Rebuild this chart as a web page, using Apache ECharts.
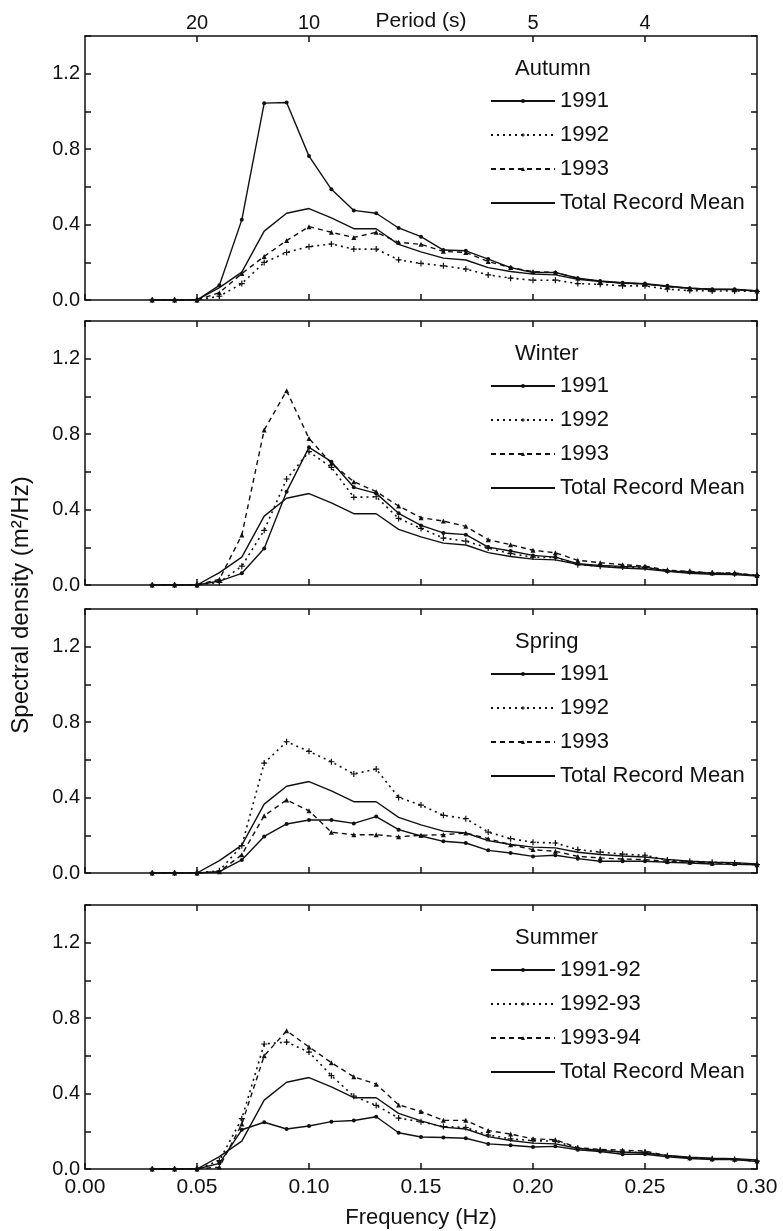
<!DOCTYPE html>
<html>
<head>
<meta charset="utf-8">
<script src="https://cdn.jsdelivr.net/npm/echarts@6/dist/echarts.min.js"></script>
<style>
html,body{margin:0;padding:0;background:#fff;}
#chart{width:783px;height:1231px;}
</style>
</head>
<body>
<div id="chart"></div>
<script>
// ---------- DATA ----------
var freq = [0.03,0.04,0.05,0.06,0.07,0.08,0.09,0.10,0.11,0.12,0.13,0.14,0.15,0.16,0.17,0.18,0.19,0.20,0.21,0.22,0.23,0.24,0.25,0.26,0.27,0.28,0.29,0.30];

var recordMean = [0,0,0,0.066,0.148,0.365,0.46,0.485,0.435,0.378,0.378,0.295,0.255,0.222,0.212,0.172,0.151,0.137,0.133,0.11,0.098,0.09,0.085,0.072,0.062,0.057,0.055,0.048];

var autumn1991 = [0,0,0,0.078,0.425,1.044,1.047,0.763,0.587,0.475,0.46,0.382,0.336,0.265,0.261,0.217,0.172,0.146,0.146,0.116,0.101,0.092,0.087,0.075,0.062,0.057,0.057,0.048];
var autumn1992 = [0,0,0,0.02,0.087,0.199,0.252,0.283,0.297,0.27,0.27,0.213,0.194,0.181,0.164,0.133,0.116,0.105,0.105,0.087,0.083,0.075,0.075,0.057,0.05,0.048,0.048,0.046];
var autumn1993 = [0,0,0,0.039,0.14,0.231,0.315,0.389,0.359,0.332,0.359,0.306,0.295,0.258,0.252,0.204,0.172,0.151,0.146,0.116,0.098,0.089,0.085,0.071,0.059,0.055,0.055,0.048];

var winter1991 = [0,0,0,0.021,0.062,0.194,0.495,0.73,0.654,0.518,0.486,0.38,0.316,0.276,0.267,0.201,0.18,0.157,0.148,0.113,0.104,0.099,0.095,0.074,0.069,0.062,0.06,0.05];
var winter1992 = [0,0,0,0.014,0.1,0.29,0.562,0.707,0.624,0.465,0.468,0.353,0.3,0.249,0.233,0.196,0.166,0.148,0.145,0.108,0.1,0.095,0.092,0.075,0.07,0.063,0.06,0.05];
var winter1993 = [0,0,0,0.03,0.265,0.822,1.03,0.777,0.645,0.548,0.495,0.419,0.357,0.339,0.311,0.24,0.214,0.184,0.171,0.131,0.118,0.108,0.1,0.078,0.072,0.064,0.064,0.051];

var spring1991 = [0,0,0,0.007,0.069,0.194,0.26,0.281,0.281,0.263,0.299,0.23,0.196,0.168,0.159,0.12,0.106,0.088,0.094,0.076,0.062,0.062,0.062,0.057,0.053,0.048,0.046,0.044];
var spring1992 = [0,0,0,0.012,0.145,0.583,0.696,0.645,0.59,0.525,0.551,0.401,0.36,0.306,0.288,0.217,0.182,0.163,0.159,0.124,0.111,0.1,0.094,0.069,0.062,0.057,0.053,0.044];
var spring1993 = [0,0,0,0.007,0.097,0.304,0.387,0.33,0.216,0.203,0.203,0.192,0.2,0.203,0.212,0.182,0.15,0.124,0.115,0.088,0.08,0.074,0.071,0.062,0.058,0.053,0.05,0.044];

var summer9192 = [0,0,0,0.03,0.208,0.248,0.212,0.228,0.251,0.257,0.277,0.192,0.17,0.167,0.163,0.133,0.126,0.117,0.12,0.102,0.093,0.078,0.078,0.065,0.056,0.05,0.05,0.04];
var summer9293 = [0,0,0,0.044,0.267,0.663,0.673,0.62,0.495,0.386,0.337,0.27,0.25,0.225,0.22,0.18,0.16,0.15,0.148,0.11,0.1,0.09,0.088,0.07,0.06,0.055,0.05,0.042];
var summer9394 = [0,0,0,0.01,0.238,0.6,0.733,0.647,0.564,0.489,0.45,0.34,0.305,0.258,0.258,0.204,0.185,0.16,0.155,0.113,0.104,0.1,0.095,0.07,0.06,0.055,0.052,0.042];

var seasons = ['Autumn','Winter','Spring','Summer'];
var yearNames = [
  ['1991','1992','1993'],
  ['1991','1992','1993'],
  ['1991','1992','1993'],
  ['1991-92','1992-93','1993-94']
];
var seasonData = [
  [autumn1991, autumn1992, autumn1993],
  [winter1991, winter1992, winter1993],
  [spring1991, spring1992, spring1993],
  [summer9192, summer9293, summer9394]
];
var meanName = 'Total Record Mean';
var periodTicks = [20, 10, 5, 4];
var yTickValues = [0.0, 0.4, 0.8, 1.2];

// ---------- LAYOUT / STYLE ----------
var FONT = '"Liberation Sans", Arial, Helvetica, sans-serif';
var INK = '#111';
var tops = [36, 321, 609, 905];
var panelH = 264;
var plusPath = 'path://M4,0 L6,0 L6,4 L10,4 L10,6 L6,6 L6,10 L4,10 L4,6 L0,6 L0,4 L4,4 Z';
var styles = [
  {symbol:'circle', symbolSize:4, line:{type:'solid', width:1.4}},
  {symbol:plusPath, symbolSize:6, line:{type:[2,4], width:1.6}},
  {symbol:'triangle', symbolSize:5, line:{type:[5,4], width:1.4}}
];

function pairs(arr){ return freq.map(function(f,k){ return [f, arr[k]]; }); }

var axisLineStyle = {color: INK, width: 1.5};
var grids = [], xAxes = [], yAxes = [], series = [], legends = [], titles = [];

for (var i = 0; i < 4; i++) {
  grids.push({left: 85, right: 26, top: tops[i], height: panelH, containLabel: false});
  xAxes.push({
    type: 'value', gridIndex: i, position: 'bottom', min: 0, max: 0.3, interval: 0.05,
    axisLine: {show: true, onZero: false, lineStyle: axisLineStyle},
    axisTick: {show: true, inside: true, length: 6, lineStyle: axisLineStyle},
    splitLine: {show: false},
    axisLabel: {show: i === 3, formatter: function(v){ return v.toFixed(2); },
      fontFamily: FONT, fontSize: 21, color: INK, margin: 8},
    name: i === 3 ? 'Frequency (Hz)' : '',
    nameLocation: 'middle', nameGap: 38, nameMoveOverlap: false,
    nameTextStyle: {fontFamily: FONT, fontSize: 22, color: INK}
  });
  if (i === 0) {
    var pf = periodTicks.map(function(p){ return 1 / p; });
    xAxes.push({
      type: 'value', gridIndex: i, position: 'top', min: 0, max: 0.3,
      axisLine: {show: true, onZero: false, lineStyle: axisLineStyle},
      axisTick: {show: true, inside: true, length: 6, lineStyle: axisLineStyle, customValues: pf},
      axisLabel: {show: true, customValues: pf, formatter: function(v){ return String(Math.round(1 / v)); },
        fontFamily: FONT, fontSize: 20, color: INK, margin: 3},
      splitLine: {show: false},
      name: 'Period (s)', nameLocation: 'middle', nameGap: 4, nameMoveOverlap: false,
      nameTextStyle: {fontFamily: FONT, fontSize: 21, color: INK, verticalAlign: 'bottom'}
    });
  } else {
    xAxes.push({
      type: 'value', gridIndex: i, position: 'top', min: 0, max: 0.3, interval: 0.05,
      axisLine: {show: true, onZero: false, lineStyle: axisLineStyle},
      axisTick: {show: true, inside: true, length: 6, lineStyle: axisLineStyle},
      axisLabel: {show: false}, splitLine: {show: false}
    });
  }
  yAxes.push({
    type: 'value', gridIndex: i, position: 'left', min: 0, max: 1.4, interval: 0.2,
    axisLine: {show: true, onZero: false, lineStyle: axisLineStyle},
    axisTick: {show: true, inside: true, length: 6, lineStyle: axisLineStyle},
    axisLabel: {show: true, customValues: yTickValues, formatter: function(v){ return v.toFixed(1); },
      fontFamily: FONT, fontSize: 20, color: INK, margin: 5},
    splitLine: {show: false}
  });
  yAxes.push({
    type: 'value', gridIndex: i, position: 'right', min: 0, max: 1.4, interval: 0.2,
    axisLine: {show: true, onZero: false, lineStyle: axisLineStyle},
    axisTick: {show: true, inside: true, length: 6, lineStyle: axisLineStyle},
    axisLabel: {show: false}, splitLine: {show: false}
  });

  var names = yearNames[i];
  for (var s = 0; s < 3; s++) {
    series.push({
      type: 'line', name: names[s], xAxisIndex: 2 * i, yAxisIndex: 2 * i,
      data: pairs(seasonData[i][s]),
      symbol: styles[s].symbol, symbolSize: styles[s].symbolSize, showSymbol: true,
      lineStyle: {color: INK, width: styles[s].line.width, type: styles[s].line.type},
      itemStyle: {color: INK, borderWidth: 0},
      animation: false, silent: true
    });
  }
  series.push({
    type: 'line', name: meanName, xAxisIndex: 2 * i, yAxisIndex: 2 * i,
    data: pairs(recordMean), symbol: 'none',
    lineStyle: {color: INK, width: 1.4, type: 'solid'},
    itemStyle: {color: INK},
    animation: false, silent: true
  });

  legends.push({
    orient: 'vertical', left: 485, top: tops[i] + 49,
    data: names.concat([{name: meanName, itemStyle: {opacity: 0}}]),
    selectedMode: false,
    itemWidth: 64, itemHeight: 5, itemGap: 12,
    textStyle: {fontFamily: FONT, fontSize: 22, color: INK, lineHeight: 21}
  });
  titles.push({
    text: seasons[i], left: 510, top: tops[i] + 17,
    textStyle: {fontFamily: FONT, fontSize: 22, fontWeight: 'normal', color: INK}
  });
}

var chart = echarts.init(document.getElementById('chart'), null, {renderer: 'canvas'});
chart.setOption({
  animation: false,
  backgroundColor: '#fff',
  title: titles,
  legend: legends,
  grid: grids,
  xAxis: xAxes,
  yAxis: yAxes,
  series: series,
  graphic: [{
    type: 'text', x: 21, y: 605, rotation: Math.PI / 2,
    style: {text: 'Spectral density (m²/Hz)', font: '24px ' + FONT, fill: INK,
      align: 'center', verticalAlign: 'middle'}
  }]
});
</script>
</body>
</html>
